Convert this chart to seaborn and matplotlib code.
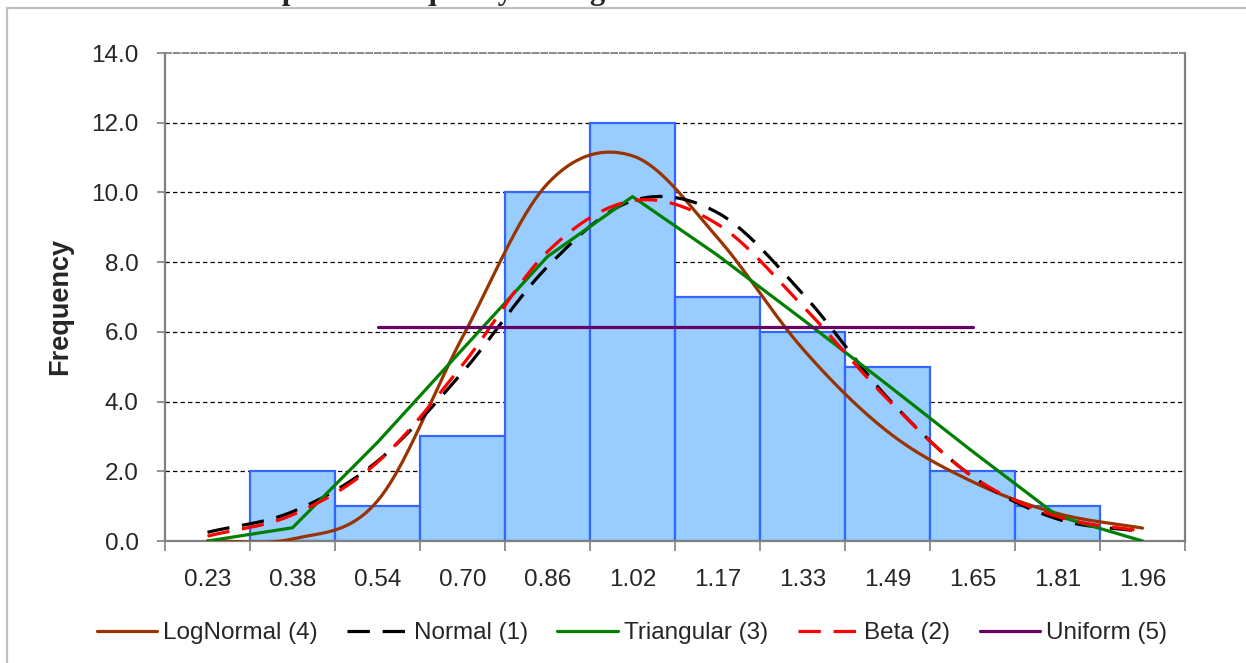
import numpy as np
import matplotlib
matplotlib.use("Agg")
import matplotlib.pyplot as plt
import seaborn as sns
import pandas as pd
from matplotlib.patches import Rectangle
from matplotlib.lines import Line2D

# ---------------- data ----------------
bin_labels = ["0.23", "0.38", "0.54", "0.70", "0.86", "1.02",
              "1.17", "1.33", "1.49", "1.65", "1.81", "1.96"]
frequency = [0, 2, 1, 3, 10, 12, 7, 6, 5, 2, 1, 0]

lognormal = [0.0, 0.06, 1.15, 5.85, 10.25, 11.05, 8.70, 5.52, 3.14, 1.70, 0.79, 0.37]
normal = [0.25, 0.84, 2.29, 4.84, 7.87, 9.76, 9.42, 7.10, 4.11, 1.85, 0.63, 0.27]
triangular = [0.0, 0.38, 2.83, 5.50, 8.16, 9.88, 8.20, 6.36, 4.48, 2.57, 0.72, 0.0]
beta = [0.14, 0.75, 2.26, 5.05, 8.30, 9.76, 9.09, 6.75, 4.07, 1.85, 0.70, 0.28]
uniform = [np.nan, np.nan, 6.15, 6.15, 6.15, 6.15, 6.15, 6.15, 6.15, 6.15, np.nan, np.nan]

y_ticks = [0, 2, 4, 6, 8, 10, 12, 14]
title = "Empirical Frequency Histogram"
series_names = ["LogNormal (4)", "Normal (1)", "Triangular (3)", "Beta (2)", "Uniform (5)"]


def smooth(vals, per=40):
    """Excel-style smoothed line (Catmull-Rom through the points)."""
    p = np.asarray(vals, float)
    n = len(p)
    xs, ys = [], []
    for i in range(n - 1):
        m0 = (p[i + 1] - p[i - 1]) / 2 if i > 0 else (p[i + 1] - p[i])
        m1 = (p[i + 2] - p[i]) / 2 if i + 2 < n else (p[i + 1] - p[i])
        t = np.linspace(0, 1, per, endpoint=(i == n - 2))
        h00 = 2 * t**3 - 3 * t**2 + 1
        h10 = t**3 - 2 * t**2 + t
        h01 = -2 * t**3 + 3 * t**2
        h11 = t**3 - t**2
        xs.append(i + t)
        ys.append(h00 * p[i] + h10 * m0 + h01 * p[i + 1] + h11 * m1)
    return np.concatenate(xs), np.concatenate(ys)


# ---------------- figure ----------------
sns.set_theme(style="white")
plt.rcParams["font.family"] = ["Liberation Sans", "DejaVu Sans"]

W, H = 1246, 663
fig = plt.figure(figsize=(W / 100, H / 100), dpi=100)
ax = fig.add_axes([165 / W, 1 - 541 / H, (1185 - 165) / W, (541 - 53) / H])

df = pd.DataFrame({"bin": bin_labels, "freq": frequency})
sns.barplot(data=df, x="bin", y="freq", order=bin_labels, width=1.0,
            color="#99CCFF", saturation=1, edgecolor="#3366FF",
            linewidth=1.6, ax=ax, zorder=1)
for p in ax.patches:
    p.set_facecolor("#99CCFF")
    if p.get_height() == 0:
        p.set_linewidth(0)

pos = np.arange(len(bin_labels))

xs, ys = smooth(lognormal)
sns.lineplot(x=xs, y=ys, ax=ax, color="#993300", lw=2.3, zorder=3, sort=False)
xs, ys = smooth(normal)
ax.plot(xs, ys, color="black", lw=2.3, ls=(0, (7, 4)), zorder=3)
sns.lineplot(x=pos, y=triangular, ax=ax, color="#008000", lw=2.3, zorder=3, sort=False)
xs, ys = smooth(beta)
ax.plot(xs, ys, color="#FF0000", lw=2.3, ls=(0, (7, 4)), zorder=3)
ax.plot(pos, uniform, color="#660066", lw=2.3, zorder=3)

# gridlines
for yv in y_ticks[1:-1]:
    ax.axhline(yv, color="black", lw=0.9, ls=(0, (3.5, 2.5)), zorder=0.5)

ax.set_xlim(-0.5, len(bin_labels) - 0.5)
ax.set_ylim(0, 14)
ax.set_yticks(y_ticks)
ax.set_yticklabels([f"{v:.1f}" for v in y_ticks])
ax.set_xticks(np.arange(-0.5, len(bin_labels), 1.0))
ax.set_xticklabels([])
ax.set_xticks(pos, minor=True)
ax.set_xticklabels(bin_labels, minor=True)
ax.set_xlabel("")
ax.set_ylabel("")

ax.tick_params(axis="y", which="major", direction="out", length=6, width=1.2,
               color="#808080", labelsize=17.5, pad=13, left=True)
ax.tick_params(axis="x", which="major", direction="out", length=7, width=1.2,
               color="#808080", bottom=True)
ax.tick_params(axis="x", which="minor", length=0, labelsize=17.5, pad=20, bottom=True)

for s in ["left", "bottom", "right"]:
    ax.spines[s].set_color("#808080")
    ax.spines[s].set_linewidth(1.6)
ax.spines["top"].set_color("#8A8A8A")
ax.spines["top"].set_linewidth(1.4)
ax.spines["top"].set_linestyle((0, (3, 1.5)))
for s in ax.spines.values():
    s.set_visible(True)

fig.text(60 / W, 1 - 306 / H, "Frequency", rotation=90, ha="center", va="center",
         fontsize=19.5, fontweight="bold")

fig.text(236 / W, 1 + 1.5 / H, title, ha="left", va="baseline", fontsize=22,
         fontweight="bold", family=["Liberation Serif", "DejaVu Serif"])

# outer chart-area border
fig.patches.append(Rectangle((7 / W, -0.05), 1.2, 1 - 8 / H + 0.05,
                             transform=fig.transFigure, fill=False,
                             edgecolor="#C0C0C0", lw=1.6))

handles = [
    Line2D([], [], color="#993300", lw=2.3),
    Line2D([], [], color="black", lw=2.3, ls=(0, (7, 4))),
    Line2D([], [], color="#008000", lw=2.3),
    Line2D([], [], color="#FF0000", lw=2.3, ls=(0, (7, 4))),
    Line2D([], [], color="#660066", lw=2.3),
]
fig.legend(handles, series_names, loc="center", bbox_to_anchor=(632 / W, 1 - 633 / H),
           ncol=5, frameon=False, fontsize=17.5, handlelength=2.5,
           handletextpad=0.25, columnspacing=1.2)

fig.savefig("out.png", dpi=100)
